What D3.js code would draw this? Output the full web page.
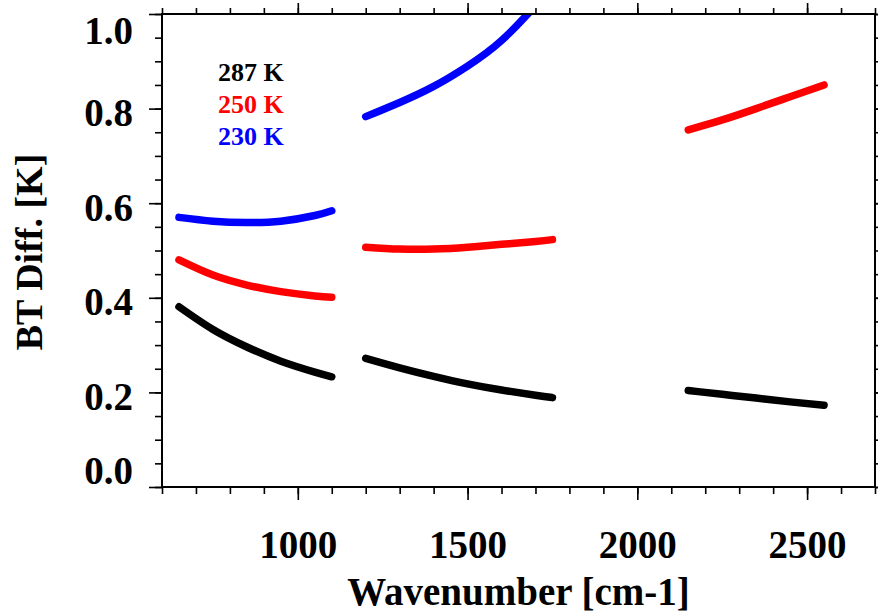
<!DOCTYPE html>
<html>
<head>
<meta charset="utf-8">
<script src="https://cdn.jsdelivr.net/npm/d3@7"></script>
<style>
  body { margin: 0; background: #fff; }
  text { font-family: "Liberation Serif", "Times New Roman", serif; font-weight: bold; }
</style>
</head>
<body>
<div id="chart"></div>
<script>
// wavenumber segments (cm-1)
var wn1 = [650, 750, 850, 950, 1050, 1100];
var wn2 = [1200, 1300, 1400, 1500, 1600, 1700, 1750];
var wn3 = [2150, 2250, 2350, 2450, 2550];

// BT differences [K] for each scene temperature
var bt287_1 = [0.381, 0.333, 0.296, 0.266, 0.243, 0.233];
var bt287_2 = [0.272, 0.252, 0.234, 0.218, 0.205, 0.194, 0.189];
var bt287_3 = [0.204, 0.196, 0.188, 0.180, 0.173];

var bt250_1 = [0.480, 0.448, 0.427, 0.413, 0.404, 0.401];
var bt250_2 = [0.507, 0.503, 0.503, 0.507, 0.513, 0.519, 0.523];
var bt250_3 = [0.755, 0.776, 0.800, 0.825, 0.850];

var bt230_1 = [0.570, 0.562, 0.559, 0.562, 0.574, 0.584];
var bt230_2 = [0.783, 0.813, 0.847, 0.890, 0.944, 1.018, 1.060];

var legendLabels = ["287 K", "250 K", "230 K"];
var colors = ["#000000", "#ff0000", "#0000ff"];

var yTicks = [0.0, 0.2, 0.4, 0.6, 0.8, 1.0];
var xTicks = [1000, 1500, 2000, 2500];

// set the dimensions and margins of the graph
var margin = {top: 14, right: 3, bottom: 128, left: 162},
    width = 878 - margin.left - margin.right,
    height = 615 - margin.top - margin.bottom;

var x = d3.scaleLinear().domain([600, 2700]).range([0, width]);
var y = d3.scaleLinear().domain([0, 1]).range([height, 0]);

var svg = d3.select("#chart").append("svg")
    .attr("width", 878)
    .attr("height", 615)
  .append("g")
    .attr("transform", "translate(" + margin.left + "," + margin.top + ")");

svg.append("clipPath").attr("id", "plotclip")
  .append("rect").attr("x", 0).attr("y", 0).attr("width", width).attr("height", height);

// build the series from the arrays
var series = [
  {c: 0, x: wn1, y: bt287_1}, {c: 0, x: wn2, y: bt287_2}, {c: 0, x: wn3, y: bt287_3},
  {c: 1, x: wn1, y: bt250_1}, {c: 1, x: wn2, y: bt250_2}, {c: 1, x: wn3, y: bt250_3},
  {c: 2, x: wn1, y: bt230_1}, {c: 2, x: wn2, y: bt230_2}
];

var line = d3.line()
    .x(function(d) { return x(d[0]); })
    .y(function(d) { return y(d[1]); })
    .curve(d3.curveNatural);

svg.append("g").attr("clip-path", "url(#plotclip)")
  .selectAll("path")
  .data(series)
  .enter().append("path")
    .attr("fill", "none")
    .attr("stroke", function(d) { return colors[d.c]; })
    .attr("stroke-width", 7.5)
    .attr("stroke-linecap", "round")
    .attr("d", function(d) { return line(d.x.map(function(v, i) { return [v, d.y[i]]; })); });

// axes: minor ticks first, then major ticks with labels
function styleAxis(g) {
  g.select(".domain").remove();
  g.selectAll(".tick line").attr("stroke", "#000").attr("stroke-width", 1.6);
}

var yMinor = d3.range(0, 1.0001, 0.05);
var xMinor = d3.range(600, 2701, 100);

svg.append("g").call(d3.axisLeft(y).tickValues(yMinor).tickSize(7).tickFormat("")).call(styleAxis);
svg.append("g").attr("transform", "translate(" + width + ",0)")
  .call(d3.axisRight(y).tickValues(yMinor).tickSize(7).tickFormat("")).call(styleAxis);
svg.append("g").attr("transform", "translate(0," + height + ")")
  .call(d3.axisBottom(x).tickValues(xMinor).tickSize(7).tickFormat("")).call(styleAxis);
svg.append("g")
  .call(d3.axisTop(x).tickValues(xMinor).tickSize(6).tickFormat("")).call(styleAxis);
svg.append("g")
  .call(d3.axisTop(x).tickValues(xTicks).tickSize(11).tickFormat("")).call(styleAxis);
svg.append("g").attr("transform", "translate(" + width + ",0)")
  .call(d3.axisRight(y).tickValues(yTicks).tickSize(13).tickFormat("")).call(styleAxis);

// Y axis with labels
var yAxis = svg.append("g")
  .call(d3.axisLeft(y).tickValues(yTicks).tickSize(13).tickFormat(d3.format(".1f")))
  .call(styleAxis);
yAxis.selectAll("text")
  .attr("x", -29)
  .attr("dy", function(d) { return d === 0 ? -4 : (d === 1 ? 29 : 17); })
  .attr("fill", "#000")
  .style("font-size", "39px");

// X axis with labels
var xAxis = svg.append("g")
  .attr("transform", "translate(0," + height + ")")
  .call(d3.axisBottom(x).tickValues(xTicks).tickSize(13).tickFormat(d3.format("d")))
  .call(styleAxis);
xAxis.selectAll("text")
  .attr("y", 71)
  .attr("dy", 0)
  .attr("fill", "#000")
  .style("font-size", "39px");

// plot frame
svg.append("rect")
  .attr("width", width).attr("height", height)
  .attr("fill", "none").attr("stroke", "#000").attr("stroke-width", 2);

// axis titles
svg.append("text")
  .attr("x", width / 2)
  .attr("y", 605 - margin.top)
  .attr("text-anchor", "middle")
  .style("font-size", "39px")
  .text("Wavenumber [cm-1]");

svg.append("text")
  .attr("transform", "translate(" + (42 - margin.left) + "," + (252 - margin.top) + ") rotate(-90)")
  .attr("text-anchor", "middle")
  .style("font-size", "38px")
  .text("BT Diff. [K]");

// legend
svg.selectAll(".legend")
  .data(legendLabels)
  .enter().append("text")
    .attr("class", "legend")
    .attr("x", 218 - margin.left)
    .attr("y", function(d, i) { return 81 + i * 32 - margin.top; })
    .attr("fill", function(d, i) { return colors[i]; })
    .style("font-size", "26px")
    .text(function(d) { return d; });
</script>
</body>
</html>
